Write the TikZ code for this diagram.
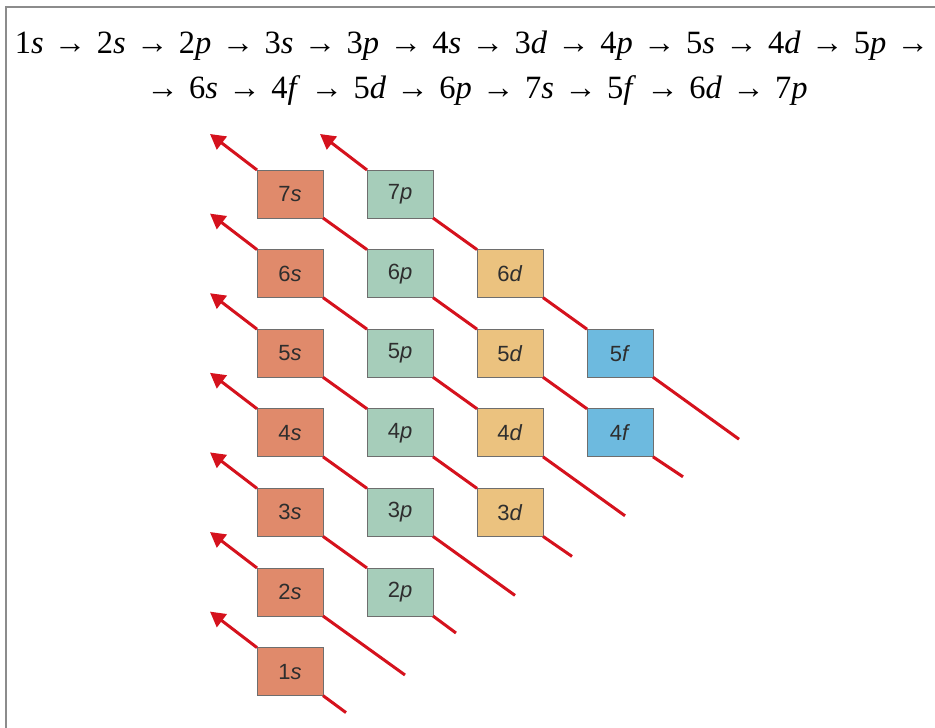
\documentclass[tikz,border=0pt]{standalone}
\usepackage{fontspec}
\setmainfont{Liberation Serif}
\newfontfamily\boxfont{Liberation Sans}
\usepackage{xcolor}
\usetikzlibrary{arrows.meta, positioning}
\definecolor{sfill}{HTML}{E08A6B}
\definecolor{pfill}{HTML}{A6CDBA}
\definecolor{dfill}{HTML}{EBC27F}
\definecolor{ffill}{HTML}{6DBADF}
\definecolor{boxborder}{HTML}{6E6E6E}
\definecolor{fillred}{HTML}{D5121D}
\definecolor{frameline}{HTML}{8C8C8C}
\definecolor{labeltext}{HTML}{2E2E2E}
\newcommand{\orbtxt}[2]{#1\textit{#2}}
\newcommand{\nxt}{\hspace{10.35pt}→\hspace{10.35pt}}
\tikzset{
orbital/.style={
draw=boxborder,
line width=1pt,
minimum width=66pt,
minimum height=48pt,
inner sep=0pt,
outer sep=0pt,
font=\boxfont\fontsize{22}{26}\selectfont,
text=labeltext
},
sbox/.style={orbital, fill=sfill},
pbox/.style={orbital, fill=pfill},
dbox/.style={orbital, fill=dfill},
fbox/.style={orbital, fill=ffill},
fillline/.style={
draw=fillred,
line width=3pt
},
fillarrow/.style={
fillline,
-{Triangle[length=15pt,width=16pt]}
},
ordertext/.style={
font=\fontsize{32.5}{36}\selectfont,
text=black,
inner sep=0pt
}
}

\begin{document}
\begin{tikzpicture}[x=1pt, y=1pt]
\useasboundingbox (0,0) rectangle (935,-728);

% frame
\draw[frameline, line width=2.5pt] (935,-7) -- (6,-7) -- (6,-728);

% filling order
\node[ordertext, anchor=base] (order1) at (472,-53)
  {\orbtxt1s\nxt\orbtxt2s\nxt\orbtxt2p\nxt\orbtxt3s\nxt\orbtxt3p\nxt\orbtxt4s\nxt\orbtxt3d\nxt\orbtxt4p\nxt\orbtxt5s\nxt\orbtxt4d\nxt\orbtxt5p\hspace{10.35pt}→};
\node[ordertext, anchor=base] (order2) at (477,-98)
  {→\hspace{10.35pt}\orbtxt6s\nxt\orbtxt4f\nxt\orbtxt5d\nxt\orbtxt6p\nxt\orbtxt7s\nxt\orbtxt5f\nxt\orbtxt6d\nxt\orbtxt7p};

% s column
\node[sbox] (b7s) at (290,-194) {\orbtxt7s};
\node[sbox, below=31.6pt of b7s] (b6s) {\orbtxt6s};
\node[sbox, below=31.6pt of b6s] (b5s) {\orbtxt5s};
\node[sbox, below=31.6pt of b5s] (b4s) {\orbtxt4s};
\node[sbox, below=31.6pt of b4s] (b3s) {\orbtxt3s};
\node[sbox, below=31.6pt of b3s] (b2s) {\orbtxt2s};
\node[sbox, below=31.6pt of b2s] (b1s) {\orbtxt1s};

% p column
\node[pbox, right=44pt of b7s] (b7p) {\orbtxt7p};
\node[pbox, right=44pt of b6s] (b6p) {\orbtxt6p};
\node[pbox, right=44pt of b5s] (b5p) {\orbtxt5p};
\node[pbox, right=44pt of b4s] (b4p) {\orbtxt4p};
\node[pbox, right=44pt of b3s] (b3p) {\orbtxt3p};
\node[pbox, right=44pt of b2s] (b2p) {\orbtxt2p};

% d column
\node[dbox, right=44pt of b6p] (b6d) {\orbtxt6d};
\node[dbox, right=44pt of b5p] (b5d) {\orbtxt5d};
\node[dbox, right=44pt of b4p] (b4d) {\orbtxt4d};
\node[dbox, right=44pt of b3p] (b3d) {\orbtxt3d};

% f column
\node[fbox, right=44pt of b5d] (b5f) {\orbtxt5f};
\node[fbox, right=44pt of b4d] (b4f) {\orbtxt4f};

% arrow tips
\coordinate[above left=36pt and 47pt of b1s.north west] (tip1);
\coordinate[above left=36pt and 47pt of b2s.north west] (tip2);
\coordinate[above left=36pt and 47pt of b3s.north west] (tip3);
\coordinate[above left=36pt and 47pt of b4s.north west] (tip4);
\coordinate[above left=36pt and 47pt of b5s.north west] (tip5);
\coordinate[above left=36pt and 47pt of b6s.north west] (tip6);
\coordinate[above left=36pt and 47pt of b7s.north west] (tip7);
\coordinate[above left=36pt and 47pt of b7p.north west] (tip8);

% line ends
\coordinate[below right=17pt and 23pt of b1s.south east] (end1);
\coordinate[below right=59pt and 82pt of b2s.south east] (end2);
\coordinate[below right=17pt and 23pt of b2p.south east] (end3);
\coordinate[below right=59pt and 82pt of b3p.south east] (end4);
\coordinate[below right=20pt and 29pt of b3d.south east] (end5);
\coordinate[below right=59pt and 82pt of b4d.south east] (end6);
\coordinate[below right=20pt and 30pt of b4f.south east] (end7);
\coordinate[below right=62pt and 86pt of b5f.south east] (end8);

% diagonals
\draw[fillline] (end1) -- (b1s.south east);
\draw[fillarrow] (b1s.north west) -- (tip1);

\draw[fillline] (end2) -- (b2s.south east);
\draw[fillarrow] (b2s.north west) -- (tip2);

\draw[fillline] (end3) -- (b2p.south east);
\draw[fillline] (b2p.north west) -- (b3s.south east);
\draw[fillarrow] (b3s.north west) -- (tip3);

\draw[fillline] (end4) -- (b3p.south east);
\draw[fillline] (b3p.north west) -- (b4s.south east);
\draw[fillarrow] (b4s.north west) -- (tip4);

\draw[fillline] (end5) -- (b3d.south east);
\draw[fillline] (b3d.north west) -- (b4p.south east);
\draw[fillline] (b4p.north west) -- (b5s.south east);
\draw[fillarrow] (b5s.north west) -- (tip5);

\draw[fillline] (end6) -- (b4d.south east);
\draw[fillline] (b4d.north west) -- (b5p.south east);
\draw[fillline] (b5p.north west) -- (b6s.south east);
\draw[fillarrow] (b6s.north west) -- (tip6);

\draw[fillline] (end7) -- (b4f.south east);
\draw[fillline] (b4f.north west) -- (b5d.south east);
\draw[fillline] (b5d.north west) -- (b6p.south east);
\draw[fillline] (b6p.north west) -- (b7s.south east);
\draw[fillarrow] (b7s.north west) -- (tip7);

\draw[fillline] (end8) -- (b5f.south east);
\draw[fillline] (b5f.north west) -- (b6d.south east);
\draw[fillline] (b6d.north west) -- (b7p.south east);
\draw[fillarrow] (b7p.north west) -- (tip8);

\end{tikzpicture}
\end{document}
